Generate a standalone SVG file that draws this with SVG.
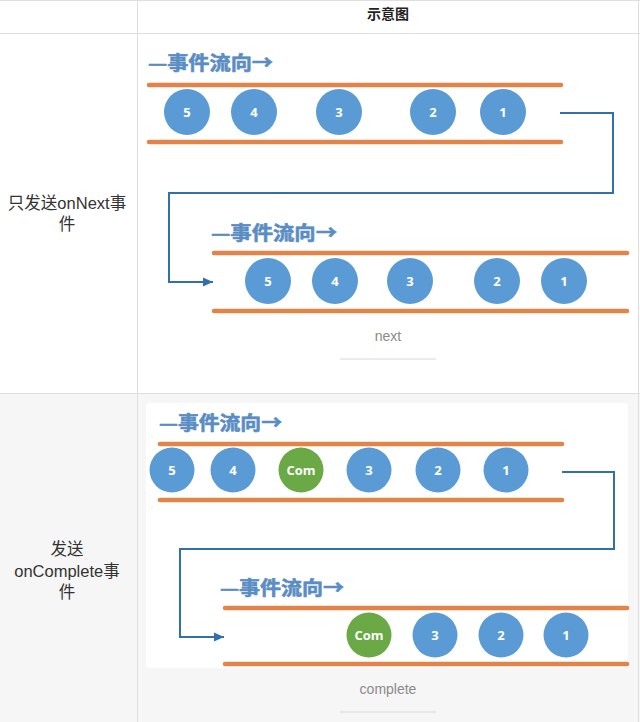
<svg xmlns="http://www.w3.org/2000/svg" width="640" height="722" viewBox="0 0 640 722">
<defs>
<style>
.grid{stroke:#dedede;stroke-width:1;fill:none}
.lbl{font-family:"Liberation Sans","Noto Sans CJK SC",sans-serif;font-size:16.5px;fill:#333;text-anchor:middle}
.hdr{font-family:"Noto Sans CJK SC",sans-serif;font-size:14px;font-weight:bold;fill:#222;text-anchor:middle}
.flow{font-family:"Noto Sans CJK SC",sans-serif;font-size:19px;font-weight:bold;fill:#5a8dc3;stroke:#5a8dc3;stroke-width:0.6}
.rail{stroke:#e2834a;stroke-width:4.5;stroke-linecap:round}
.ev{fill:#5b9bd5}
.com{fill:#6aa945}
.num{font-family:"Open Sans","Liberation Sans",sans-serif;font-size:13px;font-weight:bold;fill:#fff;text-anchor:middle}
.conn{stroke:#2f71a8;stroke-width:2;fill:none}
.cap{font-family:"Liberation Sans",sans-serif;font-size:14px;fill:#8a8a8a;text-anchor:middle}
.capline{stroke:#e4e4e4;stroke-width:1.5}
</style>
<marker id="arr" markerWidth="12" markerHeight="12" refX="10" refY="6" orient="auto" markerUnits="userSpaceOnUse">
<path d="M0,1.5 L10,6 L0,10.5 z" fill="#2f71a8"/>
</marker>
</defs>
<rect x="0" y="0" width="640" height="722" fill="#fff"/>
<rect x="0" y="393" width="640" height="329" fill="#f6f6f6"/>
<rect x="146" y="403" width="482" height="265" rx="4" fill="#fff"/>
<g id="table">
<line class="grid" x1="0" y1="0.5" x2="640" y2="0.5"/>
<line class="grid" x1="0" y1="33.5" x2="640" y2="33.5"/>
<line class="grid" x1="0" y1="393.5" x2="640" y2="393.5"/>
<line class="grid" x1="137.5" y1="0" x2="137.5" y2="722"/>
<line class="grid" x1="638.5" y1="0" x2="638.5" y2="722"/>
<text class="hdr" x="388" y="19">示意图</text>
<text class="lbl" x="67" y="209">只发送onNext事</text>
<text class="lbl" x="67" y="230">件</text>
<text class="lbl" x="67" y="555">发送</text>
<text class="lbl" x="67" y="577">onComplete事</text>
<text class="lbl" x="67" y="598">件</text>
</g>
<g id="connectors">
<polyline class="conn" points="560,113 613,113 613,193 169,193 169,282 213,282" marker-end="url(#arr)"/>
<polyline class="conn" points="562,472 614,472 614,549 180,549 180,637 224,637" marker-end="url(#arr)"/>
</g>
<g id="next-stream-1">
<text class="flow" x="148" y="70" textLength="125" lengthAdjust="spacingAndGlyphs">—事件流向→</text>
<line class="rail" x1="149" y1="85" x2="561" y2="85"/>
<line class="rail" x1="149" y1="142" x2="561" y2="142"/>
<g id="n1-5"><circle class="ev" cx="187" cy="112" r="23"/><text class="num" x="187" y="117">5</text></g>
<g id="n1-4"><circle class="ev" cx="254" cy="112" r="23"/><text class="num" x="254" y="117">4</text></g>
<g id="n1-3"><circle class="ev" cx="339" cy="112" r="23"/><text class="num" x="339" y="117">3</text></g>
<g id="n1-2"><circle class="ev" cx="433" cy="112" r="23"/><text class="num" x="433" y="117">2</text></g>
<g id="n1-1"><circle class="ev" cx="503" cy="112" r="23"/><text class="num" x="503" y="117">1</text></g>
</g>
<g id="next-stream-2">
<text class="flow" x="211" y="240" textLength="126" lengthAdjust="spacingAndGlyphs">—事件流向→</text>
<line class="rail" x1="214" y1="253" x2="627" y2="253"/>
<line class="rail" x1="214" y1="311" x2="627" y2="311"/>
<g id="n2-5"><circle class="ev" cx="268" cy="281" r="23"/><text class="num" x="268" y="286">5</text></g>
<g id="n2-4"><circle class="ev" cx="335" cy="281" r="23"/><text class="num" x="335" y="286">4</text></g>
<g id="n2-3"><circle class="ev" cx="410" cy="281" r="23"/><text class="num" x="410" y="286">3</text></g>
<g id="n2-2"><circle class="ev" cx="497" cy="281" r="23"/><text class="num" x="497" y="286">2</text></g>
<g id="n2-1"><circle class="ev" cx="564" cy="281" r="23"/><text class="num" x="564" y="286">1</text></g>
<text class="cap" x="388" y="341">next</text>
<line class="capline" x1="340" y1="359" x2="436" y2="359"/>
</g>
<g id="complete-stream-1">
<text class="flow" x="159" y="430" textLength="123" lengthAdjust="spacingAndGlyphs">—事件流向→</text>
<line class="rail" x1="160" y1="444" x2="562" y2="444"/>
<line class="rail" x1="160" y1="500" x2="562" y2="500"/>
<g id="c1-5"><circle class="ev" cx="172" cy="470" r="22.5"/><text class="num" x="172" y="475">5</text></g>
<g id="c1-4"><circle class="ev" cx="233" cy="470" r="22.5"/><text class="num" x="233" y="475">4</text></g>
<g id="c1-com"><circle class="com" cx="301" cy="470" r="22.5"/><text class="num" x="301" y="475">Com</text></g>
<g id="c1-3"><circle class="ev" cx="369" cy="470" r="22.5"/><text class="num" x="369" y="475">3</text></g>
<g id="c1-2"><circle class="ev" cx="438" cy="470" r="22.5"/><text class="num" x="438" y="475">2</text></g>
<g id="c1-1"><circle class="ev" cx="506" cy="470" r="22.5"/><text class="num" x="506" y="475">1</text></g>
</g>
<g id="complete-stream-2">
<text class="flow" x="220" y="595" textLength="124" lengthAdjust="spacingAndGlyphs">—事件流向→</text>
<line class="rail" x1="225" y1="608" x2="627" y2="608"/>
<line class="rail" x1="225" y1="664" x2="627" y2="664"/>
<g id="c2-com"><circle class="com" cx="369" cy="635" r="22.5"/><text class="num" x="369" y="640">Com</text></g>
<g id="c2-3"><circle class="ev" cx="435" cy="635" r="22.5"/><text class="num" x="435" y="640">3</text></g>
<g id="c2-2"><circle class="ev" cx="501" cy="635" r="22.5"/><text class="num" x="501" y="640">2</text></g>
<g id="c2-1"><circle class="ev" cx="566" cy="635" r="22.5"/><text class="num" x="566" y="640">1</text></g>
<text class="cap" x="388" y="694">complete</text>
<line class="capline" x1="340" y1="712" x2="436" y2="712"/>
</g>
</svg>
